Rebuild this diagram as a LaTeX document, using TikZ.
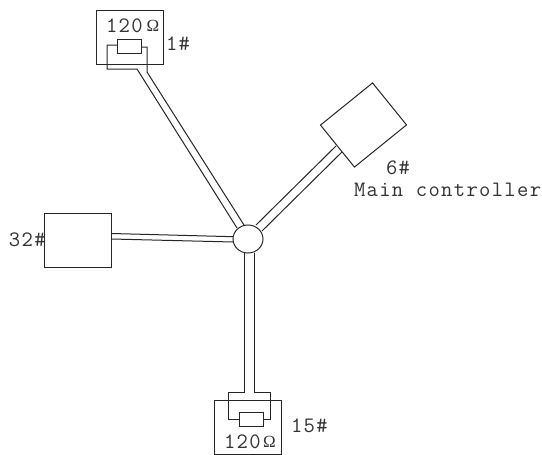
\documentclass[tikz,border=0pt]{standalone}
\usepackage{fontspec}
\usetikzlibrary{shapes.geometric}
\newfontfamily\lab[LetterSpace=6]{Latin Modern Mono}
\newfontfamily\ohm{Liberation Serif}
\tikzset{
  ln/.style={draw=black!85,line width=1pt,line join=miter},
  unit/.style={ln,rectangle,minimum width=67pt,minimum height=54pt,inner sep=0pt,outer sep=0pt},
  res/.style={ln,rectangle,fill=white,minimum width=24pt,minimum height=14pt,inner sep=0pt,outer sep=0pt},
  txt/.style={inner sep=0pt,outer sep=0pt,text=black!80,font=\lab\fontsize{22}{22}\selectfont},
  omg/.style={inner sep=0pt,outer sep=0pt,text=black!80,font=\ohm\fontsize{17}{17}\selectfont},
}
\begin{document}
\begin{tikzpicture}[x=1pt,y=-1pt]
\useasboundingbox (0,0) rectangle (542,455);
% hub and units
\node[ln,ellipse,minimum width=30pt,minimum height=28pt,inner sep=0pt,outer sep=0pt] (hub) at (248,239) {};
\node[unit] (u1) at (129.5,37) {};
\node[unit] (u15) at (247.5,427) {};
\node[unit] (u32) at (77.8,240) {};
\node[ln,rectangle,minimum width=54pt,minimum height=67pt,inner sep=0pt,outer sep=0pt,rotate=-51] (u6) at (363.5,125) {};
% trunk ends at the hub
\coordinate (h1a) at (237,228); \coordinate (h1b) at (244,225);
\coordinate (h6a) at (256,225); \coordinate (h6b) at (262,231);
\coordinate (h32a) at (233,236.7); \coordinate (h32b) at (233,242);
\coordinate (h15a) at (244,253); \coordinate (h15b) at (254,253);
% unit ends
\coordinate (c1a) at (137,69); \coordinate (c1b) at (147,72);
\coordinate (c6a) at (336,146); \coordinate (c6b) at (342,152);
\coordinate (c32a) at (111.3,233.5); \coordinate (c32b) at (111.3,239);
% wires
\draw[ln] (117,45) -- (107,45) -- (107,69) -- (c1a) -- (h1a);
\draw[ln] (141,47) -- (147,47) -- (c1b) -- (h1b);
\draw[ln] (c6a) -- (h6a);
\draw[ln] (c6b) -- (h6b);
\draw[ln] (c32a) -- (h32a);
\draw[ln] (c32b) -- (h32b);
\draw[ln] (h15a) -- (244,392) -- (228,392) -- (228,419) -- (239,419);
\draw[ln] (h15b) -- (254,392) -- (270,392) -- (270,419) -- (263,419);
% resistors
\node[res] (r1) at (129,46) {};
\node[res] (r15) at (251,419) {};
% labels
\node[txt,anchor=base west] (t1) at (106,32) {120};
\node[omg,anchor=base west] (o1) at (146.5,31) {Ω};
\node[txt,anchor=base west] (t2) at (166,50) {1\#};
\node[txt,anchor=base west] (t3) at (386,174) {6\#};
\node[txt,anchor=base west] (t4) at (354,196) {Main controller};
\node[txt,anchor=base west] (t5) at (9,246) {32\#};
\node[txt,anchor=base west] (t6) at (291,432) {15\#};
\node[txt,anchor=base west] (t7) at (224,448) {120};
\node[omg,anchor=base west] (o7) at (263,447) {Ω};
\end{tikzpicture}
\end{document}
